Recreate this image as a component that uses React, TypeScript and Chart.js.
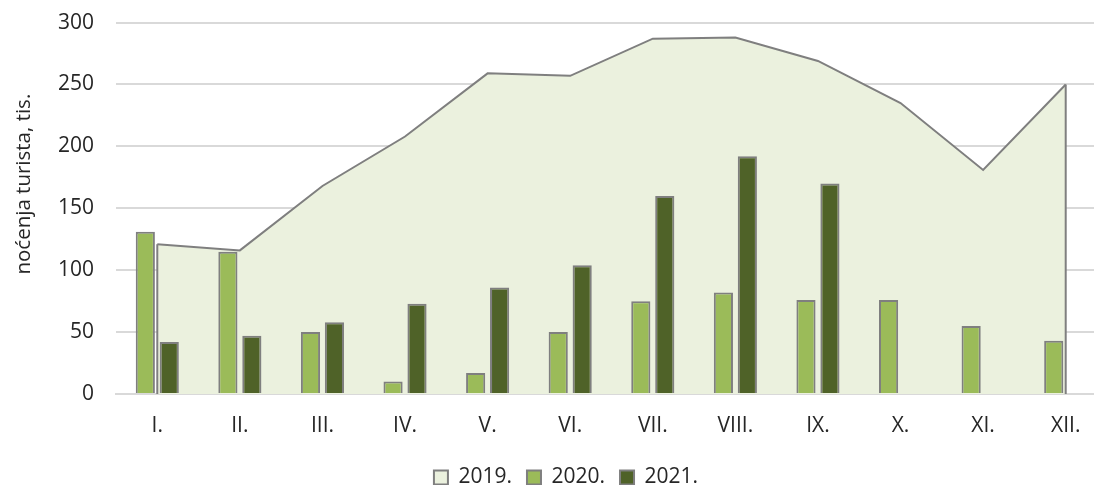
import React, { useEffect, useRef } from "react";
import { Chart, registerables } from "chart.js";

Chart.register(...registerables);

const categories = ["I.", "II.", "III.", "IV.", "V.", "VI.", "VII.", "VIII.", "IX.", "X.", "XI.", "XII."];
const values2019 = [121, 116, 168, 208, 259, 257, 287, 288, 269, 235, 181, 250];
const values2020 = [131, 115, 50, 10, 17, 50, 75, 82, 76, 76, 55, 43];
const values2021 = [42, 47, 58, 73, 86, 104, 160, 192, 170, null, null, null];
const yTicks = [0, 50, 100, 150, 200, 250, 300];
const yTitle = "noćenja turista, tis.";

const FONT = "'Open Sans', 'Liberation Sans', sans-serif";
const TEXT = "#262626";
const GRAY = "#7f7f7f";

const areaEdges = {
  id: "areaEdges",
  afterDatasetDraw(chart: any, args: any) {
    if (args.index !== 0) return;
    const meta = chart.getDatasetMeta(0);
    const pts = meta.data;
    if (!pts.length) return;
    const base = chart.scales.y.getPixelForValue(0);
    const ctx = chart.ctx;
    ctx.save();
    ctx.strokeStyle = GRAY;
    ctx.lineWidth = 2;
    [pts[0], pts[pts.length - 1]].forEach((p: any) => {
      ctx.beginPath();
      ctx.moveTo(p.x, p.y);
      ctx.lineTo(p.x, base);
      ctx.stroke();
    });
    ctx.restore();
  },
};

const sideTitle = {
  id: "sideTitle",
  afterDraw(chart: any) {
    const ctx = chart.ctx;
    const area = chart.chartArea;
    ctx.save();
    ctx.translate(24, area.top + (area.bottom - area.top) * 0.435);
    ctx.rotate(-Math.PI / 2);
    ctx.font = `20.5px ${FONT}`;
    ctx.fillStyle = TEXT;
    ctx.textAlign = "center";
    ctx.textBaseline = "middle";
    ctx.fillText(yTitle, 0, 0);
    ctx.restore();
  },
};

export default function App() {
  const ref = useRef<HTMLCanvasElement | null>(null);
  useEffect(() => {
    if (!ref.current) return;
    const chart = new Chart(ref.current, {
      type: "bar",
      data: {
        labels: categories,
        datasets: [
          {
            type: "line",
            label: "2019.",
            data: values2019,
            backgroundColor: "#ebf1de",
            borderColor: GRAY,
            borderWidth: 2,
            fill: "origin",
            tension: 0,
            pointRadius: 0,
            order: 3,
          } as any,
          {
            label: "2020.",
            data: values2020,
            backgroundColor: "#9bbb59",
            borderColor: GRAY,
            borderWidth: 2,
            categoryPercentage: 0.58,
            barPercentage: 0.8,
            order: 1,
          },
          {
            label: "2021.",
            data: values2021,
            backgroundColor: "#4f6228",
            borderColor: GRAY,
            borderWidth: 2,
            categoryPercentage: 0.58,
            barPercentage: 0.8,
            order: 2,
          },
        ],
      },
      options: {
        animation: false,
        responsive: false,
        layout: { padding: { left: 12, right: 0, top: 0, bottom: 0 } },
        plugins: {
          tooltip: { enabled: false },
          legend: {
            position: "bottom",
            labels: {
              font: { family: FONT, size: 21 },
              color: TEXT,
              boxWidth: 14,
              boxHeight: 14,
              padding: 15,
              sort: (a: any, b: any) => a.datasetIndex - b.datasetIndex,
            },
          },
        },
        scales: {
          x: {
            grid: { display: false },
            border: { display: true, color: "#d9d9d9", width: 2 },
            ticks: { font: { family: FONT, size: 21 }, color: TEXT, padding: 11 },
            afterFit: (s: any) => {
              s.height = 58;
            },
          },
          y: {
            min: 0,
            max: 300,
            afterBuildTicks: (s: any) => {
              s.ticks = yTicks.map((v) => ({ value: v }));
            },
            grid: { color: "#d9d9d9", lineWidth: 2, drawTicks: false },
            border: { display: false },
            ticks: { font: { family: FONT, size: 21 }, color: TEXT, padding: 22 },
            afterFit: (s: any) => {
              s.width = 104;
            },
          },
          y2: {
            position: "right",
            display: true,
            grid: { display: false, drawTicks: false },
            border: { display: false },
            ticks: { display: false },
            afterFit: (s: any) => {
              s.width = 13;
            },
          },
        },
      },
      plugins: [areaEdges, sideTitle],
    });
    return () => chart.destroy();
  }, []);
  return (
    <div style={{ position: "fixed", left: 0, top: 0, width: 1094, height: 485, overflow: "hidden", background: "#fff" }}>
      <canvas
        ref={ref}
        width={1120}
        height={510}
        style={{ position: "absolute", left: 0, top: -12, width: 1120, height: 510, display: "block" }}
      />
    </div>
  );
}
